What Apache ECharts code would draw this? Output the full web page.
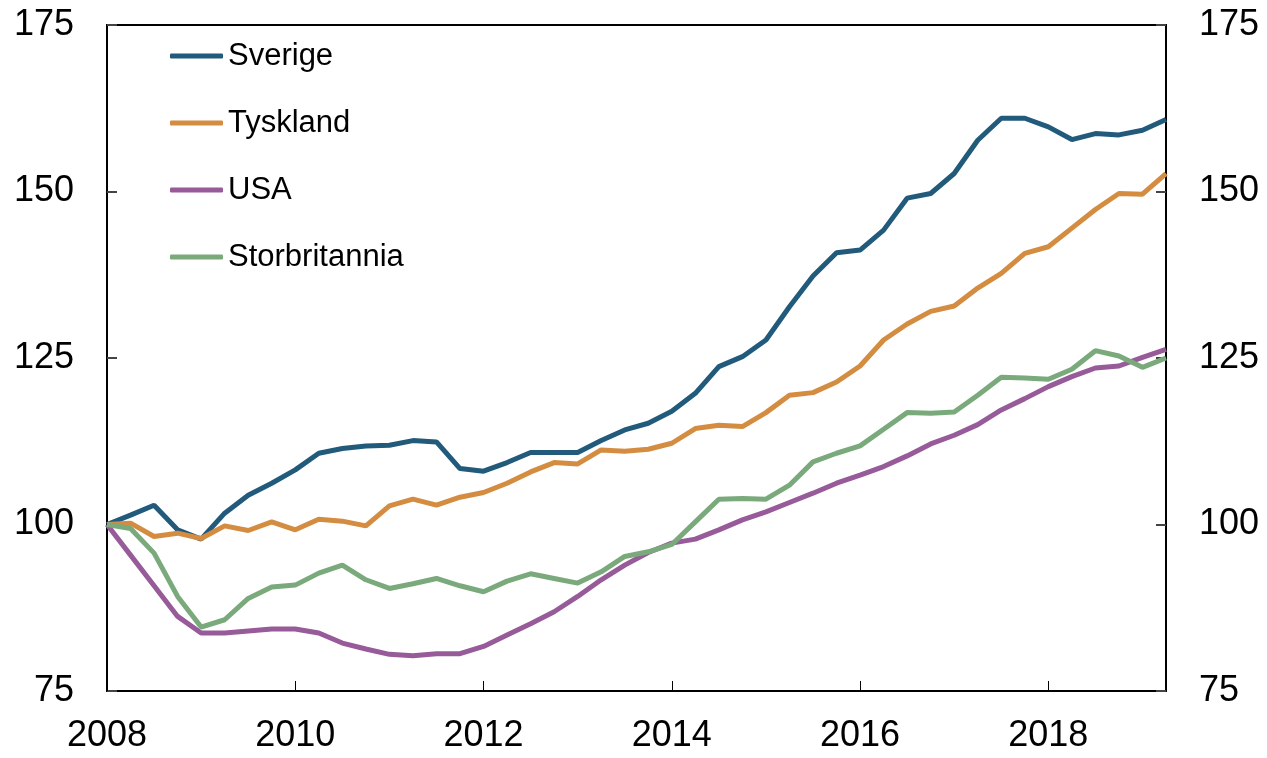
<!DOCTYPE html>
<html>
<head>
<meta charset="utf-8">
<script src="https://cdn.jsdelivr.net/npm/echarts@6/dist/echarts.min.js"></script>
<style>
  html, body {margin: 0; padding: 0; background: #fff;}
  #chart {width: 1267px; height: 758px;}
</style>
</head>
<body>
<div id="chart"></div>
<script>
// kvartal 2008K1 - 2019K2, indeks 2008K1 = 100
var years = [2008, 2009, 2010, 2011, 2012, 2013, 2014, 2015, 2016, 2017, 2018, 2019];
var quarters = [];
years.forEach(function (y) {
    for (var q = 1; q <= 4; q++) {
        if (y === 2019 && q > 2) break;
        quarters.push(y + 'K' + q);
    }
});

var sverige = [100, 101.4, 102.9, 99.2, 97.8, 101.7, 104.4, 106.2, 108.2, 110.7, 111.4, 111.8,
    111.9, 112.6, 112.4, 108.4, 108.0, 109.3, 110.8, 110.8, 110.8, 112.6, 114.2, 115.2,
    117.0, 119.7, 123.7, 125.2, 127.7, 132.7, 137.3, 140.8, 141.2, 144.2, 149.0, 149.7,
    152.7, 157.7, 161.0, 161.0, 159.7, 157.8, 158.7, 158.5, 159.2, 160.8];
var tyskland = [100, 100.2, 98.2, 98.7, 97.9, 99.8, 99.1, 100.4, 99.2, 100.8, 100.5, 99.8,
    102.8, 103.8, 102.9, 104.1, 104.8, 106.2, 107.9, 109.3, 109.1, 111.2, 111.0, 111.3,
    112.2, 114.4, 114.9, 114.7, 116.8, 119.4, 119.8, 121.4, 123.8, 127.7, 130.1, 132.0,
    132.8, 135.5, 137.7, 140.7, 141.7, 144.5, 147.3, 149.7, 149.6, 152.7];
var usa = [100, 95.4, 90.8, 86.2, 83.7, 83.7, 84.0, 84.3, 84.3, 83.7, 82.2, 81.3,
    80.5, 80.3, 80.6, 80.6, 81.7, 83.4, 85.1, 86.9, 89.2, 91.7, 93.9, 95.8,
    97.2, 97.8, 99.2, 100.7, 101.9, 103.3, 104.7, 106.2, 107.4, 108.7, 110.3, 112.1,
    113.4, 115.0, 117.2, 118.9, 120.7, 122.2, 123.5, 123.8, 125.1, 126.3];
var storbritannia = [100, 99.4, 95.7, 89.2, 84.6, 85.7, 88.9, 90.6, 90.9, 92.7, 93.9, 91.7,
    90.4, 91.1, 91.9, 90.8, 89.9, 91.5, 92.6, 91.9, 91.2, 92.9, 95.2, 95.9,
    97.0, 100.4, 103.8, 103.9, 103.8, 105.9, 109.4, 110.7, 111.8, 114.3, 116.8, 116.7,
    116.9, 119.4, 122.1, 122.0, 121.8, 123.3, 126.1, 125.3, 123.6, 125.0];

var yTicks = [75, 100, 125, 150, 175];

var font = "'Liberation Sans', Arial, sans-serif";
var chart = echarts.init(document.getElementById('chart'));

function yAxis(pos) {
    return {
        type: 'value', position: pos,
        min: yTicks[0], max: yTicks[yTicks.length - 1], interval: 25,
        axisLine: {show: true, lineStyle: {color: '#000', width: 2}},
        axisTick: {show: true, inside: true, length: 10, lineStyle: {color: '#444', width: 2}},
        axisLabel: {color: '#000', fontSize: 36, fontFamily: font, margin: 33},
        splitLine: {show: false}
    };
}

function line(name, data, color) {
    return {
        name: name, type: 'line', data: data, showSymbol: false, symbol: 'none',
        lineStyle: {color: color, width: 5}, itemStyle: {color: color}
    };
}

chart.setOption({
    animation: false,
    grid: {left: 107, right: 101, top: 25, bottom: 67, show: true, borderColor: '#000', borderWidth: 2},
    legend: {
        orient: 'vertical', left: 165, top: 35, itemGap: 35,
        icon: 'roundRect', itemWidth: 53, itemHeight: 5,
        textStyle: {fontSize: 31, fontFamily: font, color: '#000', lineHeight: 32},
        data: ['Sverige', 'Tyskland', 'USA', 'Storbritannia']
    },
    xAxis: {
        type: 'category', data: quarters, boundaryGap: false,
        axisLine: {lineStyle: {color: '#000', width: 2}},
        axisTick: {inside: true, length: 10, interval: 7, lineStyle: {color: '#000', width: 1}},
        axisLabel: {
            interval: 7, color: '#000', fontSize: 36, fontFamily: font, margin: 27,
            formatter: function (v) { return v.slice(0, 4); }
        }
    },
    yAxis: [yAxis('left'), yAxis('right')],
    series: [
        line('Sverige', sverige, '#215a7b'),
        line('Tyskland', tyskland, '#d48c40'),
        line('USA', usa, '#975b99'),
        line('Storbritannia', storbritannia, '#7aa97c')
    ]
});
</script>
</body>
</html>
